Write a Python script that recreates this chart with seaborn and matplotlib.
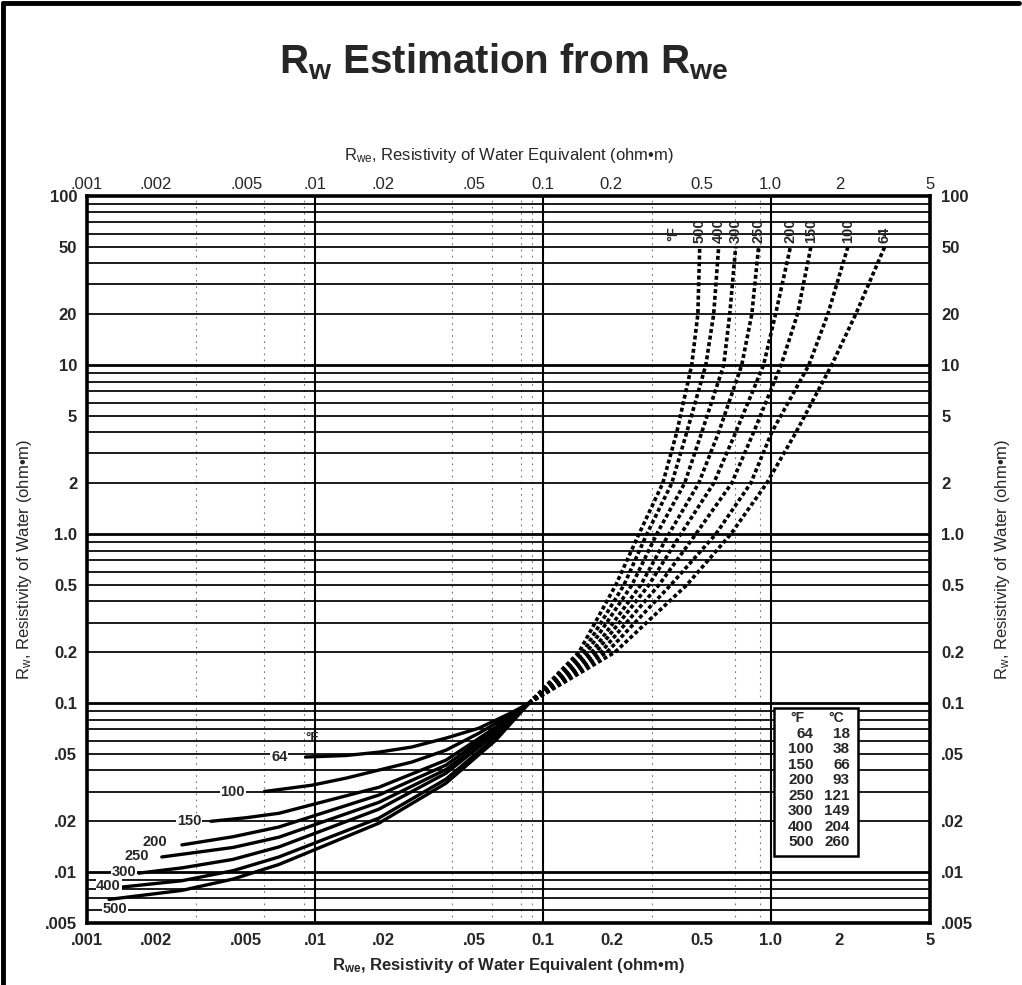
import numpy as np
import pandas as pd
import matplotlib
matplotlib.use("Agg")
import matplotlib.pyplot as plt
import seaborn as sns
from matplotlib.patches import Rectangle
from matplotlib.lines import Line2D
from matplotlib.ticker import FixedLocator, FixedFormatter, NullLocator

# ---------------- data ----------------
temps_f = [64, 100, 150, 200, 250, 300, 400, 500]
temps_c = [18, 38, 66, 93, 121, 149, 204, 260]

# upper family (dotted): Rw levels and the Rwe at which each curve crosses them
rw_upper = [0.1, 0.2, 0.5, 1.0, 2.0, 4.0, 10.0, 20.0, 50.0]
rwe_upper_64 = [0.087, 0.207, 0.428, 0.668, 0.96, 1.29, 1.85, 2.36, 3.16]
rwe_upper_100 = [0.087, 0.191, 0.364, 0.574, 0.817, 1.01, 1.47, 1.78, 2.18]
rwe_upper_150 = [0.087, 0.180, 0.323, 0.469, 0.674, 0.841, 1.11, 1.31, 1.50]
rwe_upper_200 = [0.087, 0.171, 0.292, 0.403, 0.562, 0.702, 0.93, 1.05, 1.22]
rwe_upper_250 = [0.087, 0.164, 0.269, 0.357, 0.483, 0.591, 0.746, 0.826, 0.885]
rwe_upper_300 = [0.087, 0.156, 0.246, 0.316, 0.419, 0.498, 0.622, 0.661, 0.702]
rwe_upper_400 = [0.087, 0.150, 0.227, 0.286, 0.368, 0.428, 0.519, 0.562, 0.591]
rwe_upper_500 = [0.087, 0.144, 0.209, 0.264, 0.336, 0.387, 0.450, 0.479, 0.488]

# lower family (solid): (Rwe, Rw) points from the left end to the crossing point
rwe_lower_64 = [0.0091, 0.0137, 0.0191, 0.0266, 0.0376, 0.0524, 0.0731, 0.087]
rw_lower_64 = [0.048, 0.049, 0.0513, 0.055, 0.0621, 0.0711, 0.088, 0.1]
rwe_lower_100 = [0.0060, 0.0097, 0.0137, 0.0191, 0.0266, 0.0376, 0.0524, 0.0731, 0.087]
rw_lower_100 = [0.030, 0.0327, 0.036, 0.0402, 0.0448, 0.0527, 0.0664, 0.086, 0.1]
rwe_lower_150 = [0.0035, 0.0050, 0.00695, 0.0191, 0.0376, 0.0622, 0.087]
rw_lower_150 = [0.020, 0.021, 0.0223, 0.0318, 0.046, 0.072, 0.1]
rwe_lower_200 = [0.00261, 0.00437, 0.00695, 0.0191, 0.0376, 0.0622, 0.087]
rw_lower_200 = [0.0145, 0.0162, 0.0185, 0.0286, 0.043, 0.070, 0.1]
rwe_lower_250 = [0.00213, 0.00437, 0.00695, 0.0191, 0.0376, 0.0622, 0.087]
rw_lower_250 = [0.0123, 0.0140, 0.0161, 0.0259, 0.0405, 0.068, 0.1]
rwe_lower_300 = [0.00169, 0.00261, 0.00437, 0.00695, 0.0191, 0.0376, 0.0622, 0.087]
rw_lower_300 = [0.00987, 0.0106, 0.0119, 0.0141, 0.0236, 0.0385, 0.066, 0.1]
rwe_lower_400 = [0.00141, 0.00261, 0.00437, 0.00695, 0.0191, 0.0376, 0.0622, 0.087]
rw_lower_400 = [0.00815, 0.0089, 0.0102, 0.0123, 0.0209, 0.0355, 0.063, 0.1]
rwe_lower_500 = [0.00125, 0.00261, 0.00437, 0.00695, 0.0191, 0.0376, 0.0622, 0.087]
rw_lower_500 = [0.0069, 0.0078, 0.0091, 0.0111, 0.0195, 0.0336, 0.0604, 0.1]

x_ticks = [0.001, 0.002, 0.005, 0.01, 0.02, 0.05, 0.1, 0.2, 0.5, 1.0, 2, 5]
x_ticklabels = [".001", ".002", ".005", ".01", ".02", ".05", "0.1", "0.2", "0.5", "1.0", "2", "5"]
y_ticks = [0.005, 0.01, 0.02, 0.05, 0.1, 0.2, 0.5, 1.0, 2, 5, 10, 20, 50, 100]
y_ticklabels = [".005", ".01", ".02", ".05", "0.1", "0.2", "0.5", "1.0", "2", "5", "10", "20", "50", "100"]

title_text = r"$\mathbf{R_{w}}$ Estimation from $\mathbf{R_{we}}$"
x_label = r"$\mathregular{R_{we}}$, Resistivity of Water Equivalent (ohm•m)"
y_label = r"$\mathregular{R_{w}}$, Resistivity of Water (ohm•m)"

upper = {64: rwe_upper_64, 100: rwe_upper_100, 150: rwe_upper_150, 200: rwe_upper_200,
         250: rwe_upper_250, 300: rwe_upper_300, 400: rwe_upper_400, 500: rwe_upper_500}
lower = {64: (rwe_lower_64, rw_lower_64), 100: (rwe_lower_100, rw_lower_100),
         150: (rwe_lower_150, rw_lower_150), 200: (rwe_lower_200, rw_lower_200),
         250: (rwe_lower_250, rw_lower_250), 300: (rwe_lower_300, rw_lower_300),
         400: (rwe_lower_400, rw_lower_400), 500: (rwe_lower_500, rw_lower_500)}

rows = []
for t, xs in upper.items():
    for i, (xv, yv) in enumerate(zip(xs, rw_upper)):
        rows.append(dict(temp=t, branch="upper", order=i, rwe=xv, rw=yv))
for t, (xs, ys) in lower.items():
    for i, (xv, yv) in enumerate(zip(xs, ys)):
        rows.append(dict(temp=t, branch="lower", order=i, rwe=xv, rw=yv))
df = pd.DataFrame(rows)

# ---------------- styling ----------------
sns.set_style("white")
plt.rcParams['font.family'] = ['Liberation Sans', 'DejaVu Sans']
plt.rcParams['mathtext.fontset'] = 'custom'
plt.rcParams['mathtext.rm'] = 'Liberation Sans'
plt.rcParams['mathtext.bf'] = 'Liberation Sans:bold'

fig = plt.figure(figsize=(10.22, 9.85), dpi=100)
fig.patch.set_facecolor("white")
ax = fig.add_axes([0.0851, 0.0629, 0.8249, 0.738])
ax.set_xscale("log")
ax.set_yscale("log")
ax.set_xlim(0.001, 5)
ax.set_ylim(0.005, 100)

# grid: full log grid horizontally
for d in range(-3, 2):
    for m in range(1, 10):
        yv = m * 10.0 ** d
        if 0.005 < yv < 100:
            ax.axhline(yv, color="black", lw=2.0 if m == 1 else 1.25, zorder=1)
for xv in [0.01, 0.1, 1.0]:
    ax.axvline(xv, color="black", lw=1.5, zorder=1)
for xv in [0.003, 0.006, 0.009, 0.04, 0.06, 0.08, 0.09, 0.3, 0.7, 0.9]:
    ax.axvline(xv, color="black", lw=0.8, ls=(0, (1.5, 4)), alpha=0.55, zorder=1)

# curves
for t in temps_f:
    sub = df[(df.temp == t) & (df.branch == "upper")].sort_values("order")
    sns.lineplot(data=sub, x="rwe", y="rw", ax=ax, sort=False, estimator=None,
                 color="black", lw=2.6, linestyle=(0, (1.1, 0.75)), zorder=3)
    sub = df[(df.temp == t) & (df.branch == "lower")].sort_values("order")
    sns.lineplot(data=sub, x="rwe", y="rw", ax=ax, sort=False, estimator=None,
                 color="black", lw=2.4, solid_capstyle="round", zorder=3)

# labels on upper curves (above top end, rotated)
for t in temps_f:
    xs = upper[t]
    ax.annotate(str(t), xy=(xs[-1], rw_upper[-1]), xytext=(0, 3), textcoords="offset points",
                rotation=90, ha="center", va="bottom", fontsize=10.5, fontweight="bold", zorder=5)
ax.annotate("°F", xy=(rwe_upper_500[-1], rw_upper[-1]), xytext=(-19, 4), textcoords="offset points",
            rotation=90, ha="center", va="bottom", fontsize=10.5, fontweight="bold")

# labels on lower curves (left of start)
lower_offsets = {64: (-13, 0, "right"), 100: (-14, 0, "right"), 150: (-7, 0, "right"),
                 200: (-11, 2, "right"), 250: (-9, 1, "right"), 300: (-2, 1, "right"),
                 400: (0, 1, "right"), 500: (4, -7, "center")}
for t in temps_f:
    xs, ys = lower[t]
    dx, dy, ha = lower_offsets[t]
    ax.annotate(str(t), xy=(xs[0], ys[0]), xytext=(dx, dy), textcoords="offset points",
                ha=ha, va="center", fontsize=10.5, fontweight="bold", zorder=5,
                bbox=dict(boxstyle="square,pad=0.05", fc="white", ec="none"))
ax.annotate("°F", xy=(rwe_lower_64[0], rw_lower_64[0]), xytext=(5, 14), textcoords="offset points",
            ha="center", va="center", fontsize=9.5, fontweight="bold")

# legend table
bx0, bx1, by0, by1 = 0.815, 0.9146, 0.092, 0.296
ax.add_patch(Rectangle((bx0, by0), bx1 - bx0, by1 - by0, transform=ax.transAxes,
                       fc="white", ec="black", lw=1.8, zorder=6))
row_h = (by1 - by0 - 0.012) / 9.0
ytop = by1 - 0.0145
ax.text(0.851, ytop, "°F", transform=ax.transAxes, ha="right", va="center",
        fontsize=10, fontweight="bold", zorder=7)
ax.text(0.898, ytop, "°C", transform=ax.transAxes, ha="right", va="center",
        fontsize=10, fontweight="bold", zorder=7)
for i, (tf, tc) in enumerate(zip(temps_f, temps_c)):
    yy = ytop - (i + 1) * row_h
    ax.text(0.862, yy, str(tf), transform=ax.transAxes, ha="right", va="center",
            fontsize=11, fontweight="bold", zorder=7)
    ax.text(0.905, yy, str(tc), transform=ax.transAxes, ha="right", va="center",
            fontsize=11, fontweight="bold", zorder=7)

# axes ticks
ax.xaxis.set_major_locator(FixedLocator(x_ticks))
ax.xaxis.set_major_formatter(FixedFormatter(x_ticklabels))
ax.xaxis.set_minor_locator(NullLocator())
ax.yaxis.set_major_locator(FixedLocator(y_ticks))
ax.yaxis.set_major_formatter(FixedFormatter(y_ticklabels))
ax.yaxis.set_minor_locator(NullLocator())
ax.tick_params(axis="both", which="both", length=0, labelsize=12, pad=7)
for lbl in ax.get_xticklabels() + ax.get_yticklabels():
    lbl.set_fontweight("bold")

secx = ax.secondary_xaxis("top")
secx.xaxis.set_major_locator(FixedLocator(x_ticks))
secx.xaxis.set_major_formatter(FixedFormatter(x_ticklabels))
secx.xaxis.set_minor_locator(NullLocator())
secx.tick_params(length=0, labelsize=12, pad=3)
secx.spines["top"].set_visible(False)

secy = ax.secondary_yaxis("right")
secy.yaxis.set_major_locator(FixedLocator(y_ticks))
secy.yaxis.set_major_formatter(FixedFormatter(y_ticklabels))
secy.yaxis.set_minor_locator(NullLocator())
secy.tick_params(length=0, labelsize=12, pad=8)
for lbl in secy.get_yticklabels():
    lbl.set_fontweight("bold")
secy.spines["right"].set_visible(False)

for s in ax.spines.values():
    s.set_linewidth(2.6)
    s.set_color("black")
    s.set_zorder(8)

ax.set_xlabel(x_label, fontsize=12, fontweight="bold", labelpad=6)
ax.set_ylabel(y_label, fontsize=12, labelpad=8)
secx.set_xlabel(x_label, fontsize=12, labelpad=12)
secy.set_ylabel(y_label, fontsize=12, labelpad=14)

fig.text(0.493, 0.937, title_text, ha="center", va="center", fontsize=29, fontweight="bold")

# page frame
fig.add_artist(Line2D([0.003, 0.997], [0.997, 0.997], transform=fig.transFigure, color="black", lw=3.5))
fig.add_artist(Line2D([0.003, 0.003], [0.0, 0.997], transform=fig.transFigure, color="black", lw=3.5))

fig.savefig("out.png", dpi=100, facecolor="white")
